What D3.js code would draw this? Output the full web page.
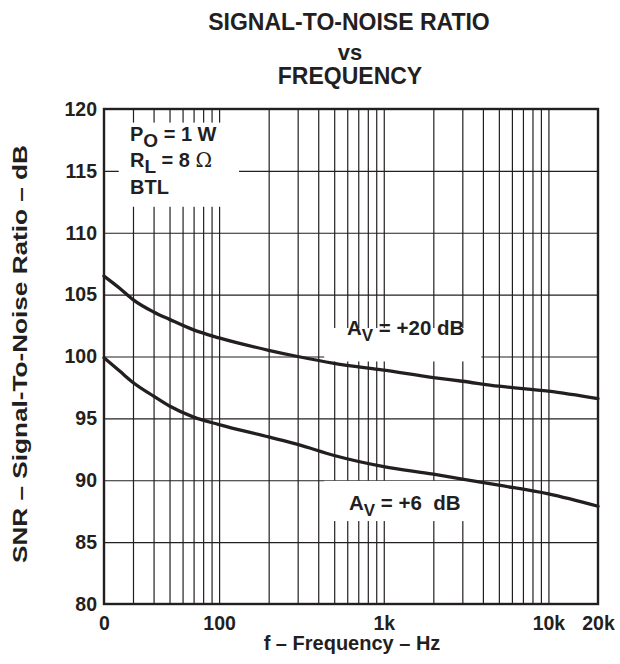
<!DOCTYPE html>
<html>
<head>
<meta charset="utf-8">
<script src="https://cdn.jsdelivr.net/npm/d3@7/dist/d3.min.js"></script>
<style>
  html, body { margin: 0; padding: 0; background: #fff; }
  svg { display: block; }
  text { font-family: "Liberation Sans", Arial, Helvetica, sans-serif; font-weight: bold; fill: #231f20; }
</style>
</head>
<body>
<svg id="chart" width="620" height="664"></svg>
<script>
// ---- data ----
const freqs      = [20, 25, 30, 40, 50, 70, 100, 200, 300, 500, 1000, 2000, 3000, 5000, 10000, 20000];
const snrAv20    = [106.5, 105.5, 104.6, 103.6, 103.0, 102.15, 101.5, 100.5, 100.0, 99.45, 98.9, 98.3, 98.0, 97.6, 97.2, 96.6];
const snrAv6     = [99.9, 98.8, 97.9, 96.8, 96.0, 95.1, 94.5, 93.5, 92.9, 92.0, 91.1, 90.5, 90.1, 89.6, 88.9, 87.9];
const xTickVals  = [20, 100, 1000, 10000, 20000];
const xTickLabels = ["0", "100", "1k", "10k", "20k"];
const yTickVals  = [80, 85, 90, 95, 100, 105, 110, 115, 120];
const xGridVals  = [30, 40, 50, 60, 70, 80, 90, 100, 200, 300, 400, 500, 600, 700, 800, 900,
                    1000, 2000, 3000, 4000, 5000, 6000, 7000, 8000, 9000, 10000];

const svg = d3.select("#chart");
const L = 104, R = 598, T = 109, B = 604;
const x = d3.scaleLog().domain([20, 20000]).range([L, R]);
const y = d3.scaleLinear().domain([80, 120]).range([B, T]);
const ink = "#231f20";

// grid
const gx = svg.append("g").attr("transform", `translate(0,${B})`)
  .call(d3.axisBottom(x).tickValues(xGridVals).tickSize(-(B - T)).tickFormat(""));
gx.select(".domain").remove();
gx.selectAll("line").attr("stroke", ink).attr("stroke-width", 1.2);

const gy = svg.append("g").attr("transform", `translate(${L},0)`)
  .call(d3.axisLeft(y).tickValues(yTickVals).tickSize(-(R - L)).tickFormat(""));
gy.select(".domain").remove();
gy.selectAll("line").attr("stroke", ink).attr("stroke-width", 1.2);

// white label boxes (mask the grid like the original)
const boxes = [
  {x0: 26,  x1: 125,  y0: 118.9, y1: 112.1},
  {x0: 460, x1: 3700, y0: 102.3, y1: 99.6},
  {x0: 460, x1: 3700, y0: 89.95, y1: 86.7}
];
svg.append("g").selectAll("rect").data(boxes).join("rect")
  .attr("x", d => x(d.x0) - 4).attr("width", d => x(d.x1) - x(d.x0) + 8)
  .attr("y", d => y(d.y0)).attr("height", d => y(d.y1) - y(d.y0))
  .attr("fill", "#fff");

// frame
svg.append("rect").attr("x", L).attr("y", T).attr("width", R - L).attr("height", B - T)
  .attr("fill", "none").attr("stroke", ink).attr("stroke-width", 2.4);

// curves
const line = d3.line().x(d => x(d[0])).y(d => y(d[1])).curve(d3.curveMonotoneX);
[snrAv20, snrAv6].forEach(s => {
  svg.append("path").datum(freqs.map((f, i) => [f, s[i]]))
    .attr("d", line).attr("fill", "none").attr("stroke", ink).attr("stroke-width", 3.3)
    .attr("stroke-linecap", "round");
});

// tick labels
const ax = svg.append("g").attr("transform", `translate(0,${B})`)
  .call(d3.axisBottom(x).tickValues(xTickVals).tickSize(0).tickPadding(12)
        .tickFormat((d, i) => xTickLabels[i]));
ax.select(".domain").remove();
ax.selectAll("text").attr("font-size", 19.5).attr("font-family", null).attr("fill", ink);

const ay = svg.append("g").attr("transform", `translate(${L},0)`)
  .call(d3.axisLeft(y).tickValues(yTickVals).tickSize(0).tickPadding(7));
ay.select(".domain").remove();
ay.selectAll("text").attr("font-size", 19.5).attr("font-family", null).attr("fill", ink);

// titles
const title = svg.append("g").attr("text-anchor", "middle");
title.append("text").attr("x", 349).attr("y", 30).attr("font-size", 23).text("SIGNAL-TO-NOISE RATIO");
title.append("text").attr("x", 350).attr("y", 60).attr("font-size", 22).text("vs");
title.append("text").attr("x", 350).attr("y", 84).attr("font-size", 23).text("FREQUENCY");

svg.append("text").attr("x", 352).attr("y", 650).attr("text-anchor", "middle")
  .attr("font-size", 20).text("f – Frequency – Hz");

svg.append("text").attr("transform", "translate(27,354) rotate(-90)")
  .attr("text-anchor", "middle").attr("font-size", 20)
  .attr("textLength", 418).attr("lengthAdjust", "spacingAndGlyphs")
  .text("SNR – Signal-To-Noise Ratio – dB");

// annotations
function sub(t, main, subs, rest, size) {
  t.append("tspan").text(main);
  t.append("tspan").attr("dy", 6).attr("font-size", size).text(subs);
  t.append("tspan").attr("dy", -6).text(rest);
}
const a1 = svg.append("text").attr("x", 130).attr("y", 141).attr("font-size", 20);
sub(a1, "P", "O", " = 1 W", 19);
const a2 = svg.append("text").attr("x", 130).attr("y", 167).attr("font-size", 20);
a2.append("tspan").text("R");
a2.append("tspan").attr("dy", 6).attr("font-size", 19).text("L");
a2.append("tspan").attr("dy", -6).text(" = 8 ");
a2.append("tspan").attr("font-weight", "normal").attr("font-family", "'DejaVu Serif', serif").text("Ω");
svg.append("text").attr("x", 130).attr("y", 194).attr("font-size", 20).text("BTL");

const a3 = svg.append("text").attr("x", 347).attr("y", 335).attr("font-size", 20.5);
sub(a3, "A", "V", " = +20 dB", 17);
const a4 = svg.append("text").attr("x", 349).attr("y", 510).attr("font-size", 20.5);
sub(a4, "A", "V", " = +6\u00a0 dB", 17);
</script>
</body>
</html>
